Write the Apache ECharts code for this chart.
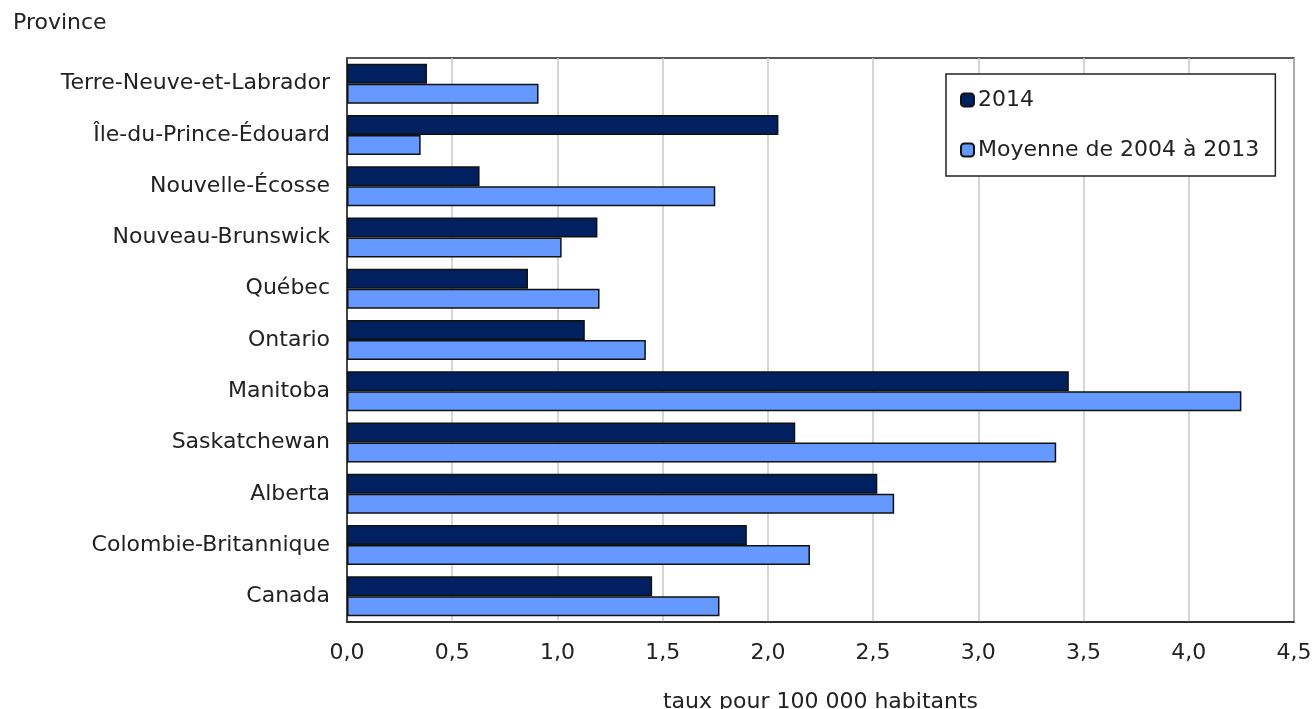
<!DOCTYPE html>
<html>
<head>
<meta charset="utf-8">
<script src="https://cdn.jsdelivr.net/npm/echarts@6/dist/echarts.min.js"></script>
<style>html,body{margin:0;padding:0;background:#fff;}#chart{width:1316px;height:709px;}</style>
</head>
<body>
<div id="chart"></div>
<script>
const categories = ['Terre-Neuve-et-Labrador','Île-du-Prince-Édouard','Nouvelle-Écosse','Nouveau-Brunswick','Québec','Ontario','Manitoba','Saskatchewan','Alberta','Colombie-Britannique','Canada'];
const values2014 = [0.38, 2.05, 0.63, 1.19, 0.86, 1.13, 3.43, 2.13, 2.52, 1.90, 1.45];
const valuesAvg = [0.91, 0.35, 1.75, 1.02, 1.20, 1.42, 4.25, 3.37, 2.60, 2.20, 1.77];
const seriesNames = ['2014', 'Moyenne de 2004 à 2013'];
const xTicks = {min: 0, max: 4.5, interval: 0.5};

const FONT = 'DejaVu Sans';
const chart = echarts.init(document.getElementById('chart'));
chart.setOption({
  animation: false,
  textStyle: {fontFamily: FONT, color: '#222'},
  title: {text: 'Province', left: 8, top: 7, textStyle: {fontFamily: FONT, fontSize: 22, fontWeight: 'normal', color: '#222'}},
  grid: {left: 347, right: 22, top: 58, bottom: 87, show: true, borderColor: '#222', borderWidth: 1.5, containLabel: false, outerBoundsMode: 'none'},
  legend: {
    orient: 'vertical', left: 946, top: 74, width: 340,
    padding: [15, 16, 15, 14], itemGap: 28,
    itemWidth: 13, itemHeight: 13,
    backgroundColor: '#fff', borderColor: '#222', borderWidth: 1.5,
    textStyle: {fontFamily: FONT, fontSize: 22, color: '#222', padding: [0,0,0,-1]},
    data: seriesNames
  },
  xAxis: {
    type: 'value', min: xTicks.min, max: xTicks.max, interval: xTicks.interval,
    name: 'taux pour 100 000 habitants', nameLocation: 'middle', nameGap: 69,
    nameTextStyle: {fontFamily: FONT, fontSize: 22, color: '#222'},
    axisLine: {show: true, lineStyle: {color: '#222', width: 1.5}},
    axisTick: {show: false},
    axisLabel: {fontFamily: FONT, fontSize: 22, color: '#222', margin: 20, formatter: v => v.toFixed(1).replace('.', ',')},
    splitLine: {show: true, lineStyle: {color: '#c8c8c8', width: 1.5}}
  },
  yAxis: {
    type: 'category', data: categories, inverse: true,
    axisLine: {show: true, lineStyle: {color: '#222', width: 1.5}},
    axisTick: {show: false},
    axisLabel: {fontFamily: FONT, fontSize: 22, color: '#222', margin: 17}
  },
  series: [
    {name: seriesNames[0], type: 'bar', data: values2014, barWidth: 20, barGap: '0%',
     itemStyle: {color: '#002060', borderColor: '#111', borderWidth: 1.5}},
    {name: seriesNames[1], type: 'bar', data: valuesAvg, barWidth: 20, barGap: '0%',
     itemStyle: {color: '#6699ff', borderColor: '#111', borderWidth: 1.5}}
  ]
});
</script>
</body>
</html>
